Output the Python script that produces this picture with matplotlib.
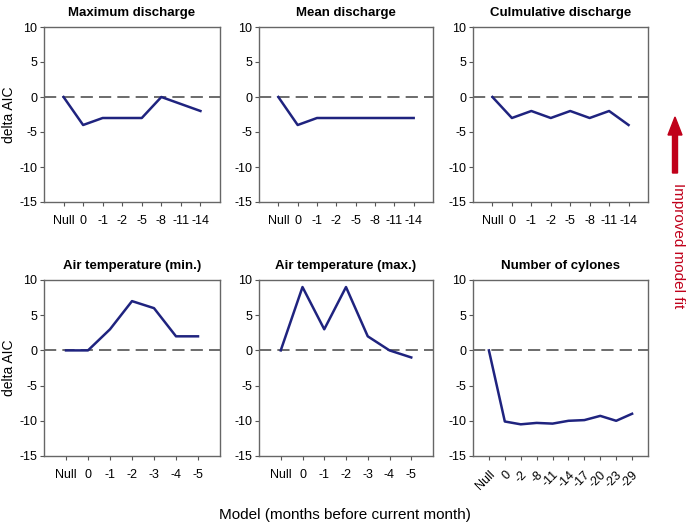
import matplotlib
matplotlib.use('Agg')
import matplotlib.pyplot as plt

plt.rcParams['font.family'] = ['Liberation Sans', 'DejaVu Sans']
plt.rcParams['axes.unicode_minus'] = False

# x categories (months before current month)
cats_discharge = ['Null', '0', '-1', '-2', '-5', '-8', '-11', '-14']
cats_temp = ['Null', '0', '-1', '-2', '-3', '-4', '-5']
cats_cyclone = ['Null', '0', '-2', '-8', '-11', '-14', '-17', '-20', '-23', '-29']

# delta AIC values
max_discharge = [0, -4, -3, -3, -3, 0, -1, -2]
mean_discharge = [0, -4, -3, -3, -3, -3, -3, -3]
cum_discharge = [0, -3, -2, -3, -2, -3, -2, -4]
temp_min = [0, 0, 3, 7, 6, 2, 2]
temp_max = [0, 9, 3, 9, 2, 0, -1]
cyclones = [0, -10.1, -10.5, -10.3, -10.4, -10.0, -9.9, -9.3, -10.0, -9.0]

panels = [
    ('Maximum discharge', cats_discharge, max_discharge),
    ('Mean discharge', cats_discharge, mean_discharge),
    ('Culmulative discharge', cats_discharge, cum_discharge),
    ('Air temperature (min.)', cats_temp, temp_min),
    ('Air temperature (max.)', cats_temp, temp_max),
    ('Number of cylones', cats_cyclone, cyclones),
]

W, H = 689, 527
fig = plt.figure(figsize=(W / 100, H / 100), dpi=100)

col_left = [44, 259, 473]
col_w = [176, 174, 175]
row_top = [27, 280]
row_h = [175, 176]

line_col = '#1f237f'
for i, (title, cats, vals) in enumerate(panels):
    r, c = divmod(i, 3)
    ax = fig.add_axes([col_left[c] / W, (H - row_top[r] - row_h[r]) / H,
                       col_w[c] / W, row_h[r] / H])
    x = list(range(len(cats)))
    ax.axhline(0, color='#444444', lw=1.1, ls=(0, (8, 4)), zorder=1)
    ax.plot(x, vals, color=line_col, lw=1.8, zorder=2)
    ax.set_xlim(-1, len(cats))
    ax.set_ylim(-15, 10)
    ax.set_yticks([-15, -10, -5, 0, 5, 10])
    ax.set_xticks(x)
    if title == 'Number of cylones':
        ax.set_xticklabels(cats, rotation=45, ha='right', rotation_mode='anchor')
    else:
        ax.set_xticklabels(cats)
    ax.tick_params(labelsize=9, length=3, width=0.8, color='#555555', pad=2)
    ax.tick_params(axis='x', pad=6)
    for s in ax.spines.values():
        s.set_color('#666666')
        s.set_linewidth(1.0)
    ax.set_title(title, fontsize=9.5, fontweight='bold', pad=8)
    if c == 0:
        ax.set_ylabel('delta AIC', fontsize=10, labelpad=2)

fig.text(0.5, 1 - 515 / H, 'Model (months before current month)',
         ha='center', va='center', fontsize=11)

red = '#c0001a'
fig.text(678 / W, 1 - 246 / H, 'Improved model fit', rotation=-90,
         ha='center', va='center', fontsize=11, color=red)
fig.patches.append(matplotlib.patches.FancyArrow(
    675 / W, 1 - 173 / H, 0, 56 / H, width=5 / W, head_width=14 / W,
    head_length=18 / H, length_includes_head=True, color=red,
    transform=fig.transFigure, figure=fig))

fig.savefig('out.png', dpi=100)
